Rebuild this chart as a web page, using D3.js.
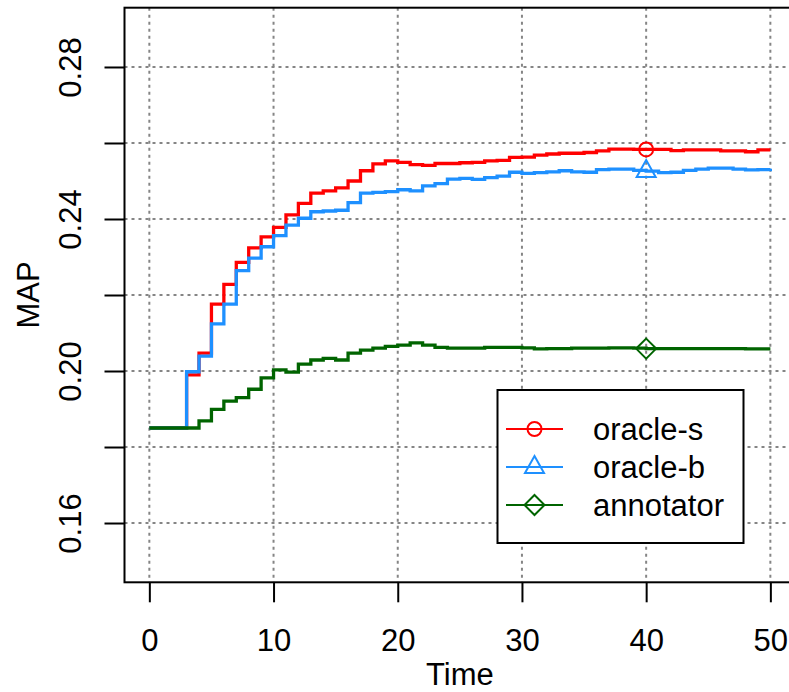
<!DOCTYPE html>
<html><head><meta charset="utf-8">
<script src="https://cdn.jsdelivr.net/npm/d3@7"></script>
<style>
html,body{margin:0;padding:0;background:#fff;}
svg{display:block;font-family:"Liberation Sans",Arial,Helvetica,sans-serif;}
</style></head>
<body><svg id="c" width="789" height="692"></svg>
<script>
// ---- data ----
const times = d3.range(0, 51);
const oracleS = [0.1850,0.1850,0.1850,0.1990,0.2047,0.2176,0.2228,0.2286,0.2324,0.2353,
  0.2378,0.2411,0.2441,0.2468,0.2474,0.2482,0.2500,0.2527,0.2545,0.2553,
  0.2549,0.2543,0.2541,0.2546,0.2546,0.2548,0.2549,0.2553,0.2554,0.2562,
  0.2563,0.2568,0.2571,0.2573,0.2573,0.2575,0.2579,0.2584,0.2584,0.2583,
  0.2583,0.2583,0.2580,0.2582,0.2582,0.2582,0.2579,0.2579,0.2577,0.2582,0.2582];
const oracleB = [0.1850,0.1850,0.1850,0.1998,0.2039,0.2124,0.2176,0.2264,0.2297,0.2327,
  0.2356,0.2384,0.2402,0.2419,0.2421,0.2423,0.2443,0.2468,0.2470,0.2472,
  0.2477,0.2474,0.2487,0.2493,0.2505,0.2507,0.2504,0.2509,0.2513,0.2523,
  0.2520,0.2522,0.2524,0.2527,0.2524,0.2523,0.2530,0.2531,0.2531,0.2528,
  0.2526,0.2522,0.2523,0.2528,0.2531,0.2534,0.2534,0.2531,0.2529,0.2530,0.2532];
const annotator = [0.1850,0.1850,0.1850,0.1850,0.1869,0.1899,0.1921,0.1930,0.1952,0.1982,
  0.2003,0.1997,0.2018,0.2029,0.2033,0.2029,0.2047,0.2055,0.2060,0.2065,
  0.2068,0.2074,0.2068,0.2062,0.2060,0.2060,0.2060,0.2062,0.2062,0.2062,
  0.2061,0.2058,0.2059,0.2059,0.2060,0.2060,0.2060,0.2061,0.2061,0.2060,
  0.2059,0.2059,0.2059,0.2059,0.2059,0.2059,0.2059,0.2059,0.2058,0.2058,0.2058];
const seriesNames = ["oracle-s","oracle-b","annotator"];
const xTicks = [0,10,20,30,40,50];
const yTicks = [0.16,0.18,0.20,0.22,0.24,0.26,0.28];
const yTickLabels = ["0.16","","0.20","","0.24","","0.28"];
const markerTime = 40;

// ---- styles ----
const colors = ["#FF0000","#1E90FF","#006400"];
const shapes = ["circle","triangle","diamond"];
const FS = 31;

const svg = d3.select("#c");
const L = 124.5, R = 795.2, T = 7.7, B = 582.3;
const x = d3.scaleLinear().domain([-2, 52]).range([L, R]);
const y = d3.scaleLinear().domain([0.15 - 0.0056, 0.29 + 0.0056]).range([B, T]);

svg.append("defs").append("clipPath").attr("id","pc")
  .append("rect").attr("x",L).attr("y",T).attr("width",R-L).attr("height",B-T);

// grid
const grid = svg.append("g").attr("clip-path","url(#pc)")
  .attr("stroke","#858585").attr("stroke-width",2).attr("stroke-dasharray","3,4");
grid.selectAll("line.v").data(xTicks).join("line")
  .attr("x1",d=>x(d)).attr("x2",d=>x(d)).attr("y1",T).attr("y2",B);
grid.selectAll("line.h").data(yTicks).join("line")
  .attr("y1",d=>y(d)).attr("y2",d=>y(d)).attr("x1",L).attr("x2",R);

// lines
const all = [oracleS, oracleB, annotator];
const line = d3.line().x(d=>x(d[0])).y(d=>y(d[1])).curve(d3.curveStepAfter);
const gl = svg.append("g").attr("clip-path","url(#pc)");
all.forEach((vals,i)=>{
  gl.append("path").datum(times.map((t,j)=>[t,vals[j]]))
    .attr("d",line).attr("fill","none").attr("stroke",colors[i])
    .attr("stroke-width",3.3).attr("stroke-linejoin","miter");
});

function marker(g, shape, cx, cy, col){
  if(shape==="circle"){
    g.append("circle").attr("cx",cx).attr("cy",cy).attr("r",7)
      .attr("fill","none").attr("stroke",col).attr("stroke-width",2);
  } else if(shape==="triangle"){
    g.append("path").attr("d",`M${cx},${cy-11}L${cx+9.5},${cy+6}L${cx-9.5},${cy+6}Z`)
      .attr("fill","none").attr("stroke",col).attr("stroke-width",2);
  } else {
    g.append("path").attr("d",`M${cx},${cy-10}L${cx+10},${cy}L${cx},${cy+10}L${cx-10},${cy}Z`)
      .attr("fill","none").attr("stroke",col).attr("stroke-width",2);
  }
}
const mi = times.indexOf(markerTime);
all.forEach((vals,i)=> marker(gl, shapes[i], x(markerTime), y(vals[mi]), colors[i]));

// box
svg.append("rect").attr("x",L).attr("y",T).attr("width",R-L).attr("height",B-T)
  .attr("fill","none").attr("stroke","#000").attr("stroke-width",2);

// x axis
const xa = svg.append("g").attr("transform",`translate(0,${B})`)
  .call(d3.axisBottom(x).tickValues(xTicks).tickSize(20).tickPadding(0).tickFormat(d3.format("d")));
xa.select(".domain").remove();
xa.selectAll(".tick line").attr("stroke","#000").attr("stroke-width",2);
xa.selectAll(".tick text").attr("font-size",FS).attr("fill","#000")
  .attr("font-family","Liberation Sans, Arial, sans-serif").attr("dy",null).attr("y",69);

// y axis
const ya = svg.append("g").attr("transform",`translate(${L},0)`)
  .call(d3.axisLeft(y).tickValues(yTicks).tickSize(20).tickFormat((d,i)=>yTickLabels[i]));
ya.select(".domain").remove();
ya.selectAll(".tick line").attr("stroke","#000").attr("stroke-width",2);
ya.selectAll(".tick text").attr("font-size",FS).attr("fill","#000")
  .attr("font-family","Liberation Sans, Arial, sans-serif")
  .attr("x",null).attr("dy",null)
  .attr("text-anchor","middle")
  .attr("transform",`translate(${81-L},0) rotate(-90)`);

// axis titles
svg.append("text").attr("x",x(25)).attr("y",685).attr("text-anchor","middle")
  .attr("font-size",FS).text("Time");
svg.append("text").attr("transform",`translate(39,${y(0.22)}) rotate(-90)`)
  .attr("text-anchor","middle").attr("font-size",FS).text("MAP");

// legend
const lg = svg.append("g");
lg.append("rect").attr("x",497.5).attr("y",390).attr("width",246).attr("height",153)
  .attr("fill","#fff").attr("stroke","#000").attr("stroke-width",2);
const rowY = [429, 467, 505];
seriesNames.forEach((n,i)=>{
  lg.append("line").attr("x1",506).attr("x2",563).attr("y1",rowY[i]).attr("y2",rowY[i])
    .attr("stroke",colors[i]).attr("stroke-width",2);
  marker(lg, shapes[i], 534.5, rowY[i], colors[i]);
  lg.append("text").attr("x",593).attr("y",rowY[i]+10.5).attr("font-size",FS).text(n);
});
</script></body></html>
